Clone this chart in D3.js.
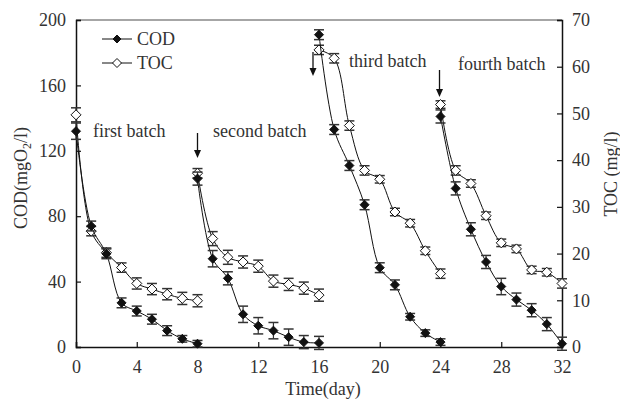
<!DOCTYPE html>
<html><head><meta charset="utf-8">
<script src="https://cdn.jsdelivr.net/npm/d3@7"></script>
<style>
html,body{margin:0;padding:0;background:#fff;}
svg text{font-family:"Liberation Serif","Times New Roman",serif;fill:#333;}
</style></head>
<body><svg id="c" width="620" height="401"></svg>
<script>
// ---- data ----
const batchDays = [[0,1,2,3,4,5,6,7,8],[8,9,10,11,12,13,14,15,16],[16,17,18,19,20,21,22,23,24],[24,25,26,27,28,29,30,31,32]];
const cod1 = [132, 74, 57, 27, 22, 17, 10, 5, 2];
const cod2 = [103, 54, 42, 20, 13, 10, 6, 3, 2.5];
const cod3 = [191, 133, 111, 87, 48.5, 38, 18.5, 8.5, 3];
const cod4 = [141, 97, 72, 52, 37, 29, 22.5, 14, 2];
const codErr1 = [5, 3, 3, 3, 3, 3, 3, 2, 2];
const codErr2 = [4, 5, 4, 5, 5, 5, 5, 4, 4];
const codErr3 = [3, 3, 3, 3, 3, 3, 2, 2, 2];
const codErr4 = [4, 4, 4, 4, 5, 4, 4, 4, 4];
const toc1 = [49.7, 24.8, 20.2, 17.0, 13.6, 12.4, 11.3, 10.4, 9.9];
const toc2 = [37.2, 23.2, 19.2, 18.2, 17.3, 14.1, 13.4, 12.6, 11.1];
const toc3 = [63.6, 61.8, 47.4, 37.8, 35.9, 28.9, 26.5, 20.6, 15.7];
const toc4 = [51.9, 37.8, 35.0, 28.1, 22.3, 21.0, 16.5, 16.0, 13.6];
const tocErr1 = [1.5, 1.0, 1.0, 1.0, 1.2, 1.2, 1.2, 1.3, 1.3];
const tocErr2 = [1.0, 1.5, 1.5, 1.3, 1.3, 1.3, 1.3, 1.3, 1.3];
const tocErr3 = [1.0, 1.0, 1.0, 1.0, 0.8, 0.8, 0.8, 0.8, 1.0];
const tocErr4 = [0.8, 1.0, 0.8, 0.8, 0.8, 0.8, 0.8, 0.8, 1.0];
const xTicks = [0,4,8,12,16,20,24,28,32];
const codTicks = [0,40,80,120,160,200];
const tocTicks = [0,10,20,30,40,50,60,70];
const batchLabels = ["first batch","second batch","third batch","fourth batch"];
const arrowDays = [8,16,24];

const codSeries = [cod1,cod2,cod3,cod4], codErrs=[codErr1,codErr2,codErr3,codErr4];
const tocSeries = [toc1,toc2,toc3,toc4], tocErrs=[tocErr1,tocErr2,tocErr3,tocErr4];

// ---- layout ----
const L=76, R=562, T=20, B=347;
const svg = d3.select("#c");
const x = d3.scaleLinear().domain([0,32]).range([L,R]);
const yC = d3.scaleLinear().domain([0,200]).range([B,T]);
const yT = d3.scaleLinear().domain([0,70]).range([B,T]);

// frame top
svg.append("line").attr("x1",L).attr("x2",R).attr("y1",T).attr("y2",T).attr("stroke","#888").attr("stroke-width",1.5);

const fs = 18;
// axes
const ax = svg.append("g").attr("transform",`translate(0,${B})`).call(d3.axisBottom(x).tickValues(xTicks).tickSize(-5).tickPadding(10));
const ayl = svg.append("g").attr("transform",`translate(${L},0)`).call(d3.axisLeft(yC).tickValues(codTicks).tickSize(-5).tickPadding(10));
const ayr = svg.append("g").attr("transform",`translate(${R},0)`).call(d3.axisRight(yT).tickValues(tocTicks).tickSize(-5).tickPadding(10));
[ax,ayl,ayr].forEach(g=>{
  g.select(".domain").attr("stroke","#111").attr("stroke-width",1.5);
  g.selectAll(".tick line").attr("stroke","#111").attr("stroke-width",1.2);
  g.selectAll(".tick text").attr("font-size",fs).attr("font-family","Liberation Serif").attr("fill","#333");
});
ax.selectAll(".tick text").attr("dy","0.9em");

// axis titles
svg.append("text").attr("x",(L+R)/2+4).attr("y",395).attr("text-anchor","middle").attr("font-size",fs).text("Time(day)");
const t1 = svg.append("text").attr("transform","translate(27,178) rotate(-90)").attr("text-anchor","middle").attr("font-size",fs);
t1.append("tspan").text("COD(mgO");
t1.append("tspan").attr("font-size",12).attr("dy",4).text("2");
t1.append("tspan").attr("dy",-4).text("/l)");
svg.append("text").attr("transform","translate(617,174) rotate(-90)").attr("text-anchor","middle").attr("font-size",fs).text("TOC (mg/l)");

// lines
const curve = d3.curveCatmullRom.alpha(0.5);
const lineC = d3.line().x(d=>x(d[0])).y(d=>yC(d[1])).curve(curve);
const lineT = d3.line().x(d=>x(d[0])).y(d=>yT(d[1])).curve(curve);
const diamond = (cx,cy,r)=>`M${cx},${cy-r}L${cx+r},${cy}L${cx},${cy+r}L${cx-r},${cy}Z`;

function drawSeries(series, errs, yS, lineGen, filled){
  series.forEach((vals,bi)=>{
    const pts = vals.map((v,i)=>[batchDays[bi][i], v, errs[bi][i]]);
    svg.append("path").attr("d",lineGen(pts)).attr("fill","none").attr("stroke","#111").attr("stroke-width",1);
    const g = svg.append("g");
    pts.forEach(p=>{
      const cx=x(p[0]), y1=yS(p[1]-p[2]), y2=yS(p[1]+p[2]);
      g.append("line").attr("x1",cx).attr("x2",cx).attr("y1",y1).attr("y2",y2).attr("stroke","#333").attr("stroke-width",1.2);
      g.append("line").attr("x1",cx-5).attr("x2",cx+5).attr("y1",y1).attr("y2",y1).attr("stroke","#333").attr("stroke-width",1.5);
      g.append("line").attr("x1",cx-5).attr("x2",cx+5).attr("y1",y2).attr("y2",y2).attr("stroke","#333").attr("stroke-width",1.5);
    });
    pts.forEach(p=>{
      svg.append("path").attr("d",diamond(x(p[0]),yS(p[1]),filled?4.5:5))
        .attr("fill",filled?"#111":"#fff").attr("stroke","#111").attr("stroke-width",1);
    });
  });
}
drawSeries(tocSeries,tocErrs,yT,lineT,false);
drawSeries(codSeries,codErrs,yC,lineC,true);

// batch labels
const labelPos = [[93,137],[213,137],[349,67],[458,70]];
batchLabels.forEach((t,i)=>svg.append("text").attr("x",labelPos[i][0]).attr("y",labelPos[i][1]).attr("font-size",fs).text(t));

// arrows
const arrowPos = [[x(arrowDays[0]),133,158],[x(arrowDays[1])-6,52,76],[x(arrowDays[2])-1,70,97]];
arrowPos.forEach(a=>{
  svg.append("line").attr("x1",a[0]).attr("x2",a[0]).attr("y1",a[1]).attr("y2",a[2]-6).attr("stroke","#111").attr("stroke-width",1.3);
  svg.append("path").attr("d",`M${a[0]-3.5},${a[2]-8}L${a[0]+3.5},${a[2]-8}L${a[0]},${a[2]}Z`).attr("fill","#111");
});

// legend
const leg = [["COD",true,39],["TOC",false,63]];
leg.forEach(l=>{
  svg.append("line").attr("x1",102).attr("x2",132).attr("y1",l[2]).attr("y2",l[2]).attr("stroke","#111").attr("stroke-width",1);
  svg.append("path").attr("d",diamond(117,l[2],l[1]?4:4.5)).attr("fill",l[1]?"#111":"#fff").attr("stroke","#111").attr("stroke-width",1);
  svg.append("text").attr("x",137).attr("y",l[2]+6).attr("font-size",fs).text(l[0]);
});
</script></body></html>
